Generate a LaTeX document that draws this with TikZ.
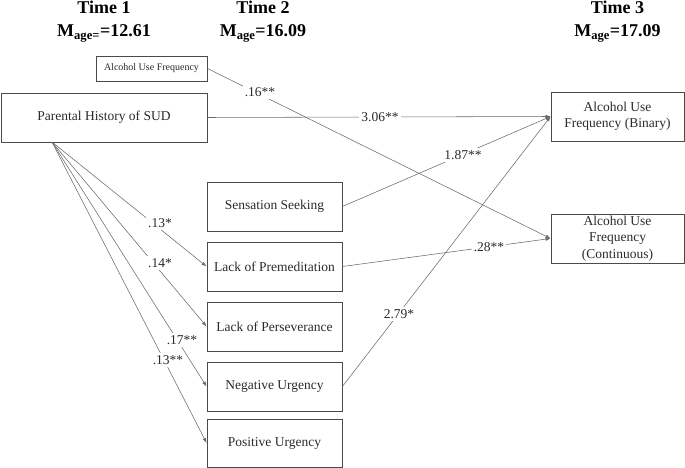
\documentclass[tikz,border=0pt]{standalone}
\usepackage{fontspec}
\setmainfont{Liberation Serif}
\usetikzlibrary{arrows.meta}
\definecolor{boxc}{HTML}{4A4A4A}
\definecolor{linec}{HTML}{6A6A6A}
\definecolor{txtc}{HTML}{2A2A2A}
\tikzset{
  varbox/.style={draw=boxc, line width=0.8pt, inner sep=0pt, align=center, text=txtc,
    font=\fontsize{13.5}{16.5}\selectfont},
  smallbox/.style={varbox, font=\fontsize{10}{12}\selectfont},
  conn/.style={draw=linec, line width=0.55pt, -{Latex[length=5pt,width=3.6pt]}},
  plain/.style={draw=linec, line width=0.55pt},
  lbl/.style={fill=white, inner sep=2pt, text=txtc, font=\fontsize{13.5}{16}\selectfont},
  hdr/.style={anchor=base, font=\bfseries\fontsize{18}{20}\selectfont},
}
\begin{document}
\begin{tikzpicture}[x=1pt,y=-1pt]
\useasboundingbox (0,0) rectangle (685,468);
% headers
\node[hdr] (t1) at (104,13.5) {Time 1};
\node[hdr] (m1) at (104,36.5) {M\textsubscript{age=}=12.61};
\node[hdr] (t2) at (263,13.5) {Time 2};
\node[hdr] (m2) at (263,36.5) {M\textsubscript{age}=16.09};
\node[hdr] (t3) at (617.5,13.5) {Time 3};
\node[hdr] (m3) at (617.5,36.5) {M\textsubscript{age}=17.09};
% boxes
\node[smallbox, minimum width=111pt, minimum height=25pt] (auf) at (151.5,68.5) {Alcohol Use Frequency};
\node[varbox, minimum width=206pt, minimum height=49pt] (par) at (104,117.5) {Parental History of SUD};
\node[varbox, minimum width=135pt, minimum height=49pt] (ss) at (274.5,206.5) {Sensation Seeking};
\node[varbox, minimum width=135pt, minimum height=49pt] (lp) at (274.5,266.5) {Lack of Premeditation};
\node[varbox, minimum width=135pt, minimum height=49pt] (lpers) at (274.5,326.5) {Lack of Perseverance};
\node[varbox, minimum width=135pt, minimum height=49pt] (nu) at (274.5,386.5) {Negative Urgency};
\node[varbox, minimum width=135pt, minimum height=48pt] (pu) at (274.5,443) {Positive Urgency};
\node[varbox, minimum width=133pt, minimum height=49pt] (bin) at (617.5,116.5) {Alcohol Use\\Frequency (Binary)};
\node[varbox, minimum width=133pt, minimum height=49pt, inner ysep=0pt] (cont) at (617.5,238.5) {\raisebox{0pt}[0pt][0pt]{}Alcohol Use\\Frequency\\(Continuous)};
% fan origin
\coordinate (fan) at (52,142);
% connectors
\draw[conn] (par.east) -- (bin.west);
\draw[conn] (auf.east) -- (cont.west);
\draw[conn] (ss.east) -- (bin.west);
\draw[conn] (lp.east) -- (cont.west);
\draw[conn] (nu.east) -- (bin.west);
\draw[conn] (fan) -- (lp.west);
\draw[conn] (fan) -- (lpers.west);
\draw[conn] (fan) -- (nu.west);
\draw[conn] (fan) -- (pu.west);
% labels
\node[lbl] (l1) at (260,92) {.16**};
\node[lbl] (l2) at (380,117) {3.06**};
\node[lbl] (l3) at (463,155) {1.87**};
\node[lbl] (l4) at (489,247) {.28**};
\node[lbl] (l5) at (399,314) {2.79*};
\node[lbl] (l6) at (160,223) {.13*};
\node[lbl] (l7) at (160,263) {.14*};
\node[lbl] (l8) at (182,340) {.17**};
\node[lbl] (l9) at (168,360) {.13**};
\end{tikzpicture}
\end{document}
